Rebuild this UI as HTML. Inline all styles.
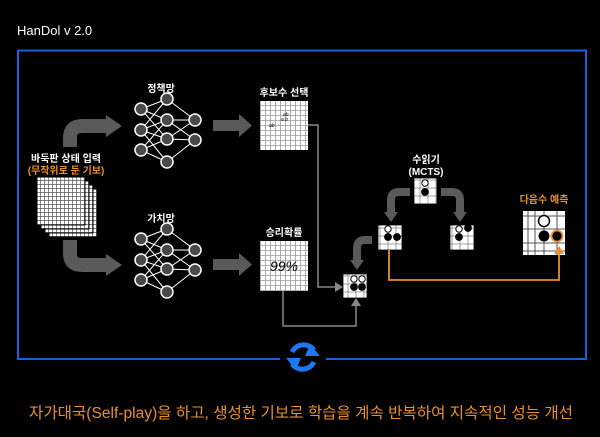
<!DOCTYPE html>
<html><head><meta charset="utf-8"><style>
html,body{margin:0;padding:0;background:#000;}
svg{display:block}
text{font-family:"Liberation Sans","Noto Sans CJK KR",sans-serif;}
</style></head><body>
<svg width="600" height="437" viewBox="0 0 600 437" xmlns="http://www.w3.org/2000/svg">
<defs>
<pattern id="g" width="5" height="5" patternUnits="userSpaceOnUse"><rect width="5" height="5" fill="#fff"/><path d="M0 0.5H5M0.5 0V5" stroke="#999" stroke-width="0.8"/></pattern>
<pattern id="g2" width="4" height="4" patternUnits="userSpaceOnUse"><rect width="4" height="4" fill="#fff"/><path d="M0 0.5H4M0.5 0V4" stroke="#555" stroke-width="0.7"/></pattern>
<pattern id="s" width="8" height="8" patternUnits="userSpaceOnUse"><rect width="8" height="8" fill="#fff"/><path d="M0 4H8M4 0V8" stroke="#888" stroke-width="0.8"/></pattern>
<g id="net">
<g stroke="#fff" stroke-width="1">
<path d="M0 0L26 -10M0 0L26 11M0 0L26 30M0 21L26 -10M0 21L26 11M0 21L26 30M0 21L26 53M0 41L26 11M0 41L26 30M0 41L26 53"/>
<path d="M26 -10L54 11M26 11L54 11M26 11L54 31M26 30L54 11M26 30L54 31M26 53L54 31"/>
</g>
<g fill="#4a4a4a" stroke="#fff" stroke-width="1.5">
<circle cx="0" cy="0" r="6"/><circle cx="0" cy="21" r="6"/><circle cx="0" cy="41" r="6"/>
<circle cx="26" cy="-10" r="6"/><circle cx="26" cy="11" r="6"/><circle cx="26" cy="30" r="6"/><circle cx="26" cy="53" r="6"/>
<circle cx="54" cy="11" r="6"/><circle cx="54" cy="31" r="6"/>
</g>
</g>
</defs>
<text x="17" y="35" fill="#fff" font-size="13">HanDol v 2.0</text>
<rect x="18" y="50.5" width="568" height="308.5" fill="none" stroke="#1b5fe0" stroke-width="2"/>

<text x="66" y="162" fill="#fff" font-size="10" font-weight="bold" text-anchor="middle">바둑판 상태 입력</text>
<text x="66" y="174" fill="#e8902a" font-size="10" font-weight="bold" text-anchor="middle">(무작위로 둔 기보)</text>
<rect x="49" y="189" width="48" height="48" fill="url(#g2)" stroke="#000" stroke-width="1"/>
<rect x="45" y="185" width="48" height="48" fill="url(#g2)" stroke="#000" stroke-width="1"/>
<rect x="41" y="181" width="48" height="48" fill="url(#g2)" stroke="#000" stroke-width="1"/>
<rect x="37" y="177" width="48" height="48" fill="url(#g2)" stroke="#000" stroke-width="1"/>

<path d="M70 147V138Q70 126 82 126H108" fill="none" stroke="#5a5a5a" stroke-width="14"/>
<polygon points="106,115 122,126 106,137" fill="#5a5a5a"/>
<path d="M70 240V254Q70 265 82 265H108" fill="none" stroke="#5a5a5a" stroke-width="14"/>
<polygon points="106,254 122,265 106,276" fill="#5a5a5a"/>

<text x="161" y="92" fill="#fff" font-size="10" font-weight="bold" text-anchor="middle">정책망</text>
<use href="#net" x="141" y="109"/>
<text x="161" y="222" fill="#fff" font-size="10" font-weight="bold" text-anchor="middle">가치망</text>
<use href="#net" x="141" y="239"/>

<rect x="213" y="120" width="28" height="11" fill="#5a5a5a"/><polygon points="239,114 252,125.5 239,137" fill="#5a5a5a"/>
<rect x="213" y="259" width="28" height="11" fill="#5a5a5a"/><polygon points="239,253 252,264.5 239,276" fill="#5a5a5a"/>

<text x="284" y="96" fill="#fff" font-size="10" font-weight="bold" text-anchor="middle">후보수 선택</text>
<rect x="260" y="101" width="48" height="49" fill="url(#g)"/>
<text x="269" y="127" font-size="5" fill="#000" font-style="italic">ab</text>
<text x="281" y="121" font-size="5" fill="#000" font-style="italic">a b</text>
<text x="283" y="116" font-size="5" fill="#000" font-style="italic">ab</text>

<text x="284" y="236" fill="#fff" font-size="10" font-weight="bold" text-anchor="middle">승리확률</text>
<rect x="260" y="241" width="48" height="50" fill="url(#g)"/>
<text x="284" y="271" fill="#000" font-size="14" font-style="italic" text-anchor="middle" font-family="Liberation Serif,serif">99%</text>

<path d="M308 125H318V287H336" fill="none" stroke="#888" stroke-width="1.5"/>
<polygon points="335,282 343,287 335,292" fill="#888"/>
<path d="M283 291V326H356V306" fill="none" stroke="#888" stroke-width="1.5"/>
<polygon points="351,306 356,298 361,306" fill="#888"/>

<text x="426" y="163" fill="#fff" font-size="10" font-weight="bold" text-anchor="middle">수읽기</text>
<text x="426" y="175" fill="#fff" font-size="10" font-weight="bold" text-anchor="middle">(MCTS)</text>

<path d="M410 192H399Q391 192 391 200V214" fill="none" stroke="#5a5a5a" stroke-width="8"/>
<polygon points="384,212 398,212 391,222" fill="#5a5a5a"/>
<path d="M441 192H452Q460 192 460 200V214" fill="none" stroke="#5a5a5a" stroke-width="8"/>
<polygon points="453,212 467,212 460,222" fill="#5a5a5a"/>
<path d="M372 240H365Q357 240 357 248V262" fill="none" stroke="#5a5a5a" stroke-width="8"/>
<polygon points="350,260 364,260 357,270" fill="#5a5a5a"/>

<g stroke="#000" stroke-width="0.8">
<rect x="414" y="178" width="23" height="26" fill="url(#s)"/>
<rect x="378" y="225" width="24" height="25" fill="url(#s)"/>
<rect x="450" y="225" width="24" height="25" fill="url(#s)"/>
<rect x="343" y="274" width="24" height="24" fill="url(#s)"/>
</g>
<g stroke="#000" stroke-width="1">
<circle cx="425" cy="183" r="3.2" fill="#fff"/><circle cx="425" cy="192" r="3.4" fill="#000"/>
<circle cx="388" cy="229" r="3.2" fill="#fff"/><circle cx="388" cy="237" r="3.4" fill="#000"/><circle cx="397" cy="237" r="3.4" fill="#000"/>
<circle cx="459" cy="229" r="3.2" fill="#fff"/><circle cx="468" cy="228" r="3.4" fill="#000"/><circle cx="459" cy="237" r="3.4" fill="#000"/>
<circle cx="354" cy="279" r="3.2" fill="#fff"/><circle cx="362" cy="279" r="3.2" fill="#fff"/><circle cx="354" cy="287" r="3.4" fill="#000"/><circle cx="362" cy="287" r="3.4" fill="#000"/>
</g>

<text x="544" y="203" fill="#e8902a" font-size="10" font-weight="bold" text-anchor="middle">다음수 예측</text>
<rect x="523" y="211" width="42" height="44" fill="#fff"/>
<path d="M523 216H565M523 229H565M523 243H565M523 251H565M528 211V255M535 211V255M544 211V255M557 211V255" stroke="#555" stroke-width="1"/>
<circle cx="544" cy="221" r="5.5" fill="#fff" stroke="#000" stroke-width="1.5"/>
<circle cx="544" cy="236" r="5.5" fill="#000"/>
<circle cx="557" cy="236" r="5.5" fill="#000" stroke="#e8902a" stroke-width="1.8"/>

<path d="M389 250V280H559V252" fill="none" stroke="#e8902a" stroke-width="1.8"/>
<polygon points="554,254 559,246 564,254" fill="#e8902a"/>

<rect x="280" y="345" width="46" height="28" fill="#000"/>
<g fill="none" stroke="#1a78f0" stroke-width="5">
<path d="M292 352A13 13 0 0 1 314 350"/>
<path d="M314 362A13 13 0 0 1 292 364"/>
</g>
<polygon points="310,344 320,356 305,356" fill="#1a78f0"/>
<polygon points="296,370 286,358 301,358" fill="#1a78f0"/>

<text x="301" y="418" fill="#e8902a" font-size="15.5" text-anchor="middle" textLength="544" lengthAdjust="spacingAndGlyphs">자가대국(Self-play)을 하고, 생성한 기보로 학습을 계속 반복하여 지속적인 성능 개선</text>
</svg>
</body></html>
